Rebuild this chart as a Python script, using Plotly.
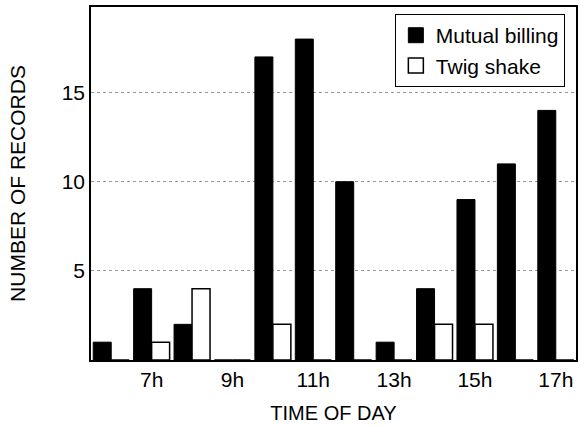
import plotly.graph_objects as go

hours = ["6h", "7h", "8h", "9h", "10h", "11h", "12h", "13h", "14h", "15h", "16h", "17h"]
mutual_billing = [1, 4, 2, 0, 17, 18, 10, 1, 4, 9, 11, 14]
twig_shake = [0, 1, 4, 0, 2, 0, 0, 0, 2, 2, 0, 0]
tick_labels = ["7h", "9h", "11h", "13h", "15h", "17h"]
y_ticks = [5, 10, 15]

FONT = "Liberation Sans, Arial, sans-serif"

fig = go.Figure()
fig.add_trace(go.Bar(x=hours, y=mutual_billing, name="Mutual billing", showlegend=False,
                     marker=dict(color="black", line=dict(color="black", width=1))))
fig.add_trace(go.Bar(x=hours, y=twig_shake, name="Twig shake", showlegend=False,
                     marker=dict(color="white", line=dict(color="black", width=1.5))))
# legend entries
fig.add_trace(go.Scatter(x=[None], y=[None], mode="markers", name="Mutual billing",
                         marker=dict(symbol="square", size=15, color="black",
                                     line=dict(color="black", width=1))))
fig.add_trace(go.Scatter(x=[None], y=[None], mode="markers", name="Twig shake",
                         marker=dict(symbol="square", size=15, color="white",
                                     line=dict(color="black", width=1.5))))

fig.update_layout(
    width=580, height=426,
    margin=dict(l=91, r=2, t=7, b=66),
    paper_bgcolor="white", plot_bgcolor="white",
    barmode="group", bargap=0.11, bargroupgap=0.0,
    font=dict(family=FONT, size=21, color="black"),
    legend=dict(x=0.977, y=0.98, xanchor="right", yanchor="top",
                bordercolor="black", borderwidth=1, bgcolor="white",
                font=dict(size=21), tracegroupgap=0, itemwidth=30),
    showlegend=True,
)
fig.update_xaxes(
    type="category", categoryorder="array", categoryarray=hours,
    tickmode="array", tickvals=tick_labels, ticktext=tick_labels,
    showline=True, linecolor="black", linewidth=1.5, mirror=True,
    ticks="", showgrid=False,
    title=dict(text="TIME OF DAY", font=dict(size=20), standoff=16),
    tickfont=dict(size=21),
)
fig.update_yaxes(
    range=[0, 19.8], tickmode="array", tickvals=y_ticks,
    showline=True, linecolor="black", linewidth=1.5, mirror=True,
    ticks="", ticklen=0,
    showgrid=True, gridcolor="#999999", griddash="dot", gridwidth=1,
    zeroline=False,
    title=dict(text="NUMBER OF RECORDS", font=dict(size=21), standoff=30),
    tickfont=dict(size=21),
)

fig.write_html("out.html")
